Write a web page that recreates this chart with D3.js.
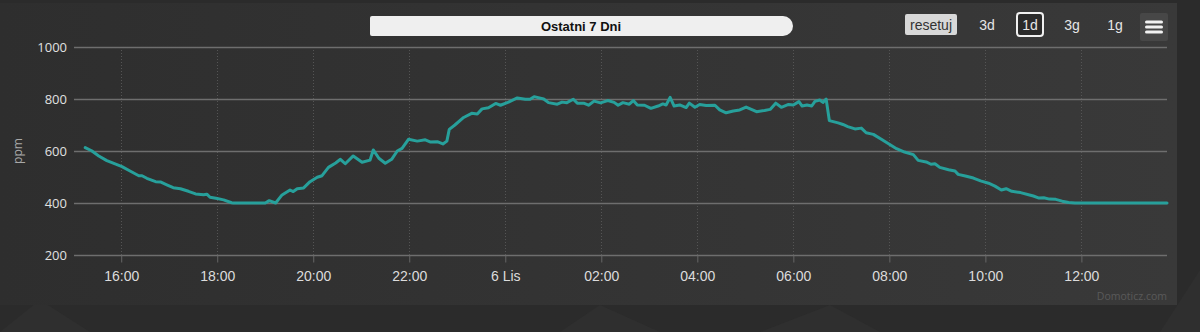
<!DOCTYPE html>
<html>
<head>
<meta charset="utf-8">
<script src="https://cdn.jsdelivr.net/npm/d3@7"></script>
<style>
  html, body { margin: 0; padding: 0; background: #2b2b2b; }
  svg { display: block; }
</style>
</head>
<body>
<div id="chart"></div>
<script>
"use strict";

// CO2 readings, 5-6 Nov ("6 Lis" = 6 listopada)
var times = ["15:15","15:23","15:32","15:42","15:50","16:01","16:11","16:22","16:26","16:32",
    "16:43","16:49","16:57","17:05","17:14","17:24","17:33","17:43","17:47","17:51",
    "18:00","18:08","18:18","18:20","19:00","19:05","19:13","19:21","19:31","19:35",
    "19:40","19:48","19:56","20:05","20:11","20:19","20:28","20:34","20:40","20:50",
    "21:01","21:11","21:15","21:22","21:30","21:38","21:45","21:51","21:59","22:10",
    "22:20","22:26","22:35","22:42","22:47","22:50","22:57","23:08","23:18","23:25",
    "23:31","23:39","23:48","23:54","00:04","00:15","00:25","00:31","00:36","00:48",
    "00:54","01:05","01:11","01:17","01:25","01:30","01:38","01:44","01:51","01:59",
    "02:08","02:16","02:21","02:27","02:35","02:40","02:45","02:54","03:02","03:11",
    "03:17","03:21","03:26","03:31","03:38","03:46","03:50","03:57","04:03","04:11",
    "04:22","04:28","04:36","04:45","04:53","05:01","05:14","05:24","05:31","05:38",
    "05:45","05:54","06:00","06:07","06:11","06:17","06:23","06:27","06:33","06:37",
    "06:41","06:45","06:56","07:02","07:08","07:17","07:25","07:31","07:40","07:50",
    "08:00","08:09","08:19","08:30","08:36","08:46","08:52","08:57","09:03","09:14",
    "09:22","09:26","09:35","09:45","09:54","10:04","10:12","10:20","10:26","10:33",
    "10:44","10:54","11:00","11:07","11:13","11:20","11:28","11:36","11:44","11:52",
    "13:47"];
var ppm = [613,601,581,563,553,540,523,505,505,495,
    482,481,470,459,455,445,435,432,434,422,
    417,412,401,400,400,409,400,431,450,444,
    455,458,482,499,505,537,554,568,551,581,
    557,565,604,572,553,568,600,610,645,638,
    643,635,636,627,638,683,700,729,745,742,
    762,766,783,776,788,804,799,799,809,800,
    786,780,788,786,799,784,784,776,792,785,
    794,787,776,786,780,794,777,776,764,773,
    781,777,806,773,777,767,784,768,779,775,
    776,758,747,754,758,769,751,756,760,784,
    768,779,777,790,773,777,773,791,796,787,
    800,717,708,702,694,685,688,670,664,645,
    626,609,596,586,564,558,549,551,537,528,
    523,510,504,496,485,476,465,450,455,445,
    440,432,427,419,420,415,414,407,402,400,
    400];
var yTicks = [200, 400, 600, 800, 1000];
var rangeButtons = ["3d", "1d", "3g", "1g"];
var titleText = "Ostatni 7 Dni";

var W = 1200, H = 332;
var margin = {left: 74, right: 33, top: 47, bottom: 77};

// turn "HH:MM" into dates, rolling over midnight
var data = [];
var day = 0, prevH = -1;
times.forEach(function(t, i){
    var h = +t.slice(0, 2), m = +t.slice(3, 5);
    if (h < prevH) day++;
    prevH = h;
    data.push({t: new Date(2023, 10, 5 + day, h, m), v: ppm[i]});
});

var svg = d3.select("#chart").append("svg")
    .attr("width", W)
    .attr("height", H);

var defs = svg.append("defs");
var grad = defs.append("linearGradient").attr("id", "panel")
    .attr("x1", "0%").attr("x2", "100%").attr("y1", "0%").attr("y2", "0%");
grad.append("stop").attr("offset", "0%").attr("stop-color", "#2e2e2e");
grad.append("stop").attr("offset", "100%").attr("stop-color", "#393939");

// page background + faint shapes below the panel
svg.append("rect").attr("width", W).attr("height", H).attr("fill", "#2b2b2b");
var shapes = [
    [[0, 332], [40, 300], [90, 332]],
    [[560, 332], [600, 305], [660, 332]],
    [[760, 332], [830, 305], [880, 332]],
    [[1160, 332], [1200, 270], [1200, 332]]
];
svg.selectAll("polygon.bg").data(shapes).enter()
    .append("polygon")
        .attr("class", "bg")
        .attr("points", function(d){ return d.map(function(p){ return p.join(","); }).join(" "); })
        .attr("fill", "#2f2f2f");

svg.append("rect")
    .attr("x", 0).attr("y", 3)
    .attr("width", 1177).attr("height", 302)
    .attr("fill", "url(#panel)");

var x = d3.scaleTime()
    .domain([new Date(2023, 10, 5, 15, 1), new Date(2023, 10, 6, 13, 47)])
    .range([margin.left, W - margin.right]);

var y = d3.scaleLinear()
    .domain([200, 1000])
    .range([H - margin.bottom, margin.top]);

var xTicks = x.ticks(d3.timeHour.every(2));
var fmtHour = d3.timeFormat("%H:%M");
function fmtTick(d){
    return d.getHours() === 0 ? d.getDate() + " Lis" : fmtHour(d);
}

// vertical dotted grid
svg.append("g").selectAll("line").data(xTicks).enter()
    .append("line")
        .attr("x1", function(d){ return Math.round(x(d)) + 0.5; })
        .attr("x2", function(d){ return Math.round(x(d)) + 0.5; })
        .attr("y1", margin.top)
        .attr("y2", H - margin.bottom)
        .attr("stroke", "#555")
        .attr("stroke-dasharray", "1,2");

// horizontal grid
svg.append("g").selectAll("line").data(yTicks).enter()
    .append("line")
        .attr("x1", margin.left)
        .attr("x2", W - margin.right)
        .attr("y1", function(d){ return Math.round(y(d)) + 0.5; })
        .attr("y2", function(d){ return Math.round(y(d)) + 0.5; })
        .attr("stroke", "#6e6e6e")
        .attr("stroke-width", 1.5);

// x axis
var xAxis = svg.append("g")
    .attr("transform", "translate(0," + (Math.round(y(200)) + 0.5) + ")")
    .call(d3.axisBottom(x).tickValues(xTicks).tickFormat(fmtTick).tickSize(7).tickPadding(9));
xAxis.select(".domain").remove();
xAxis.selectAll(".tick line").attr("stroke", "#666");
xAxis.selectAll("text")
    .attr("fill", "#dcdcdc")
    .style("font-family", "'Liberation Sans Narrow', 'Arial Narrow', sans-serif")
    .style("font-size", "14px");

// y axis labels
var yAxis = svg.append("g")
    .attr("transform", "translate(" + margin.left + ",0)")
    .call(d3.axisLeft(y).tickValues(yTicks).tickFormat(d3.format("d")).tickSize(0).tickPadding(7));
yAxis.select(".domain").remove();
yAxis.selectAll("text")
    .attr("fill", "#e0e0e0")
    .attr("dy", "0.35em")
    .style("font-family", "'Open Sans', sans-serif")
    .style("font-size", "13px");

svg.append("text")
    .attr("transform", "translate(22," + y(600) + ") rotate(-90)")
    .attr("text-anchor", "middle")
    .attr("fill", "#a8a8a8")
    .style("font-family", "'Open Sans', sans-serif")
    .style("font-size", "12px")
    .text("ppm");

// the series
var line = d3.line()
    .x(function(d){ return x(d.t); })
    .y(function(d){ return y(d.v); });

svg.append("path")
    .datum(data)
    .attr("d", line)
    .attr("fill", "none")
    .attr("stroke", "#27a09b")
    .attr("stroke-width", 3)
    .attr("stroke-linejoin", "round")
    .attr("stroke-linecap", "round");

// title bar
svg.append("path")
    .attr("d", "M372,16 H783 A10,10 0 0 1 783,36 H372 A2,2 0 0 1 370,34 V18 A2,2 0 0 1 372,16 Z")
    .attr("fill", "#efefef");
svg.append("text")
    .attr("x", 581).attr("y", 30.5)
    .attr("text-anchor", "middle")
    .attr("fill", "#111")
    .style("font-family", "'Liberation Sans Narrow', 'Arial Narrow', sans-serif")
    .style("font-weight", "bold")
    .style("font-size", "13px")
    .text(titleText);

// zoom buttons
var btnFont = "'Liberation Sans Narrow', 'Arial Narrow', sans-serif";
svg.append("rect")
    .attr("x", 905).attr("y", 14).attr("width", 52).attr("height", 21).attr("rx", 2)
    .attr("fill", "#d8d8d8");
svg.append("text")
    .attr("x", 931).attr("y", 29.5).attr("text-anchor", "middle")
    .attr("fill", "#333")
    .style("font-family", btnFont).style("font-size", "14px")
    .text("resetuj");

var btnX = [987, 1030, 1072, 1115];
svg.append("rect")
    .attr("x", 1017).attr("y", 13).attr("width", 26).attr("height", 23).attr("rx", 3)
    .attr("fill", "#2a2a2a").attr("stroke", "#f0f0f0").attr("stroke-width", 2);
svg.selectAll("text.btn").data(rangeButtons).enter()
    .append("text")
        .attr("class", "btn")
        .attr("x", function(d, i){ return btnX[i]; })
        .attr("y", 30)
        .attr("text-anchor", "middle")
        .attr("fill", "#e6e6e6")
        .style("font-family", btnFont).style("font-size", "14px")
        .text(function(d){ return d; });

// menu button
svg.append("rect")
    .attr("x", 1140).attr("y", 13).attr("width", 28).attr("height", 28).attr("rx", 2)
    .attr("fill", "#474747");
svg.selectAll("line.menu").data([22, 27, 32]).enter()
    .append("line")
        .attr("class", "menu")
        .attr("x1", 1146.5).attr("x2", 1161.5)
        .attr("y1", function(d){ return d; }).attr("y2", function(d){ return d; })
        .attr("stroke", "#f2f2f2").attr("stroke-width", 3).attr("stroke-linecap", "round");

// credits
svg.append("text")
    .attr("x", 1167).attr("y", 300)
    .attr("text-anchor", "end")
    .attr("fill", "#5a5a5a")
    .style("font-family", "'Open Sans', sans-serif")
    .style("font-size", "10.5px")
    .text("Domoticz.com");
</script>
</body>
</html>
